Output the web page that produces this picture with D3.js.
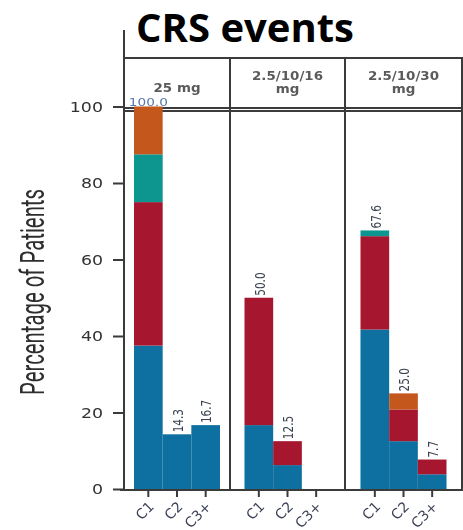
<!DOCTYPE html>
<html>
<head>
<meta charset="utf-8">
<script src="https://cdn.jsdelivr.net/npm/d3@7"></script>
<style>
  body { margin: 0; background: #fff; }
  svg { display: block; }
</style>
</head>
<body>
<svg id="chart" width="463" height="530"></svg>
<script>
// ---- data ---------------------------------------------------------------
// Dose cohorts (one facet each) and the cycles shown inside every facet
const cohorts = ["25 mg", "2.5/10/16 mg", "2.5/10/30 mg"];
const cohortLines = [["25 mg"], ["2.5/10/16", "mg"], ["2.5/10/30", "mg"]];
const cycles = ["C1", "C2", "C3+"];

// Percentage of patients with CRS per grade; rows = cohorts, columns = C1, C2, C3+
const grade1 = [[37.5, 14.3, 16.7], [16.7, 6.25, 0], [41.7, 12.5, 3.85]];
const grade2 = [[37.5, 0, 0], [33.3, 6.25, 0], [24.4, 8.3, 3.85]];
const grade3 = [[12.5, 0, 0], [0, 0, 0], [1.5, 0, 0]];
const grade4 = [[12.5, 0, 0], [0, 0, 0], [0, 4.2, 0]];

const yTicks = [0, 20, 40, 60, 80, 100];
const gradeKeys = ["g1", "g2", "g3", "g4"];
const gradeColors = ["#0b6fa0", "#a6142f", "#0f958f", "#c4581c"];

// ---- layout -------------------------------------------------------------
const svg = d3.select("#chart");
const axisX = 124;
const panelEdges = [124, 230, 345, 462];
const stripTop = 58, stripBottom = 108, plotTop = 111, plotBottom = 489;
const groupWidth = 86;
const frameColor = "#3b3b3b";

const y = d3.scaleLinear().domain([0, 100]).range([489, 106.5]);
const color = d3.scaleOrdinal().domain(gradeKeys).range(gradeColors);

// one band scale per cohort facet
const xScales = cohorts.map((c, i) => {
  const mid = (panelEdges[i] + panelEdges[i + 1]) / 2;
  return d3.scaleBand().domain(cycles)
    .range([mid - groupWidth / 2, mid + groupWidth / 2]).padding(0);
});

// table rows for the stack layout
const rows = [];
cohorts.forEach((c, i) => cycles.forEach((cy, j) => {
  rows.push({ cohort: i, cycle: cy,
    g1: grade1[i][j], g2: grade2[i][j], g3: grade3[i][j], g4: grade4[i][j] });
}));
const stacked = d3.stack().keys(gradeKeys)(rows);

// soft rendering of the figure body
const defs = svg.append("defs");
defs.append("filter").attr("id", "soft")
  .attr("x", "-5%").attr("y", "-5%").attr("width", "110%").attr("height", "110%")
  .append("feGaussianBlur").attr("stdDeviation", 0.45);

// ---- title --------------------------------------------------------------
svg.append("text")
  .attr("x", 245).attr("y", 42)
  .attr("text-anchor", "middle")
  .attr("font-family", "'Open Sans', sans-serif")
  .attr("font-weight", 700)
  .attr("font-size", 40)
  .attr("fill", "#000")
  .text("CRS events");

const chart = svg.append("g").attr("filter", "url(#soft)");

// ---- frame: facet strip and panel borders ------------------------------
const frame = chart.append("g")
  .attr("stroke", frameColor).attr("stroke-width", 2).attr("fill", "none");
frame.append("line").attr("x1", axisX).attr("x2", axisX).attr("y1", 30).attr("y2", plotBottom + 1);
[stripTop, stripBottom, plotTop].forEach(yy =>
  frame.append("line").attr("x1", axisX).attr("x2", 463).attr("y1", yy).attr("y2", yy));
panelEdges.slice(1).forEach(xx =>
  frame.append("line").attr("x1", xx).attr("x2", xx).attr("y1", stripTop).attr("y2", plotBottom + 1));

// facet strip labels
cohortLines.forEach((lines, i) => {
  const mid = (panelEdges[i] + panelEdges[i + 1]) / 2;
  const t = chart.append("text")
    .attr("transform", `translate(${mid},0) scale(1.12,1)`)
    .attr("text-anchor", "middle")
    .attr("font-family", "'DejaVu Sans', sans-serif")
    .attr("font-weight", 700)
    .attr("font-size", 12)
    .attr("fill", "#5a5a5a");
  const starts = lines.length === 1 ? [92] : [80, 93];
  lines.forEach((l, k) => t.append("tspan").attr("x", 0).attr("y", starts[k]).text(l));
});

// ---- y axis -------------------------------------------------------------
const yAxis = chart.append("g")
  .attr("transform", `translate(${axisX},0)`)
  .call(d3.axisLeft(y).tickValues(yTicks).tickSize(11).tickPadding(9));
yAxis.select(".domain").remove();
yAxis.selectAll(".tick line").attr("stroke", frameColor).attr("stroke-width", 2);
yAxis.selectAll(".tick text")
  .attr("font-family", "'DejaVu Sans', sans-serif")
  .attr("font-size", 14.5)
  .attr("fill", "#333")
  .attr("x", -21 / 1.2)
  .attr("transform", "scale(1.2,1)");

// y axis title
chart.append("text")
  .attr("transform", "translate(44,292) scale(1.25,1) rotate(-90)")
  .attr("text-anchor", "middle")
  .attr("font-family", "Roboto, sans-serif")
  .attr("font-size", 26)
  .attr("fill", "#2e2e2e")
  .attr("textLength", 206)
  .attr("lengthAdjust", "spacingAndGlyphs")
  .text("Percentage of Patients");

// ---- bars ---------------------------------------------------------------
const bars = chart.append("g");
stacked.forEach(layer => {
  bars.append("g").attr("fill", color(layer.key))
    .selectAll("rect")
    .data(layer.filter(d => d[1] - d[0] > 0))
    .join("rect")
    .attr("x", d => xScales[d.data.cohort](d.data.cycle))
    .attr("width", d => xScales[d.data.cohort].bandwidth())
    .attr("y", d => y(d[1]))
    .attr("height", d => y(d[0]) - y(d[1]));
});

// ---- x axes (one per facet) --------------------------------------------
chart.append("line")
  .attr("x1", axisX - 4).attr("x2", 463)
  .attr("y1", plotBottom + 1).attr("y2", plotBottom + 1)
  .attr("stroke", frameColor).attr("stroke-width", 2);
xScales.forEach(xs => {
  const g = chart.append("g")
    .attr("transform", `translate(0,${plotBottom + 1})`)
    .call(d3.axisBottom(xs).tickSize(7));
  g.select(".domain").remove();
  g.selectAll(".tick line").attr("stroke", frameColor).attr("stroke-width", 2);
  g.selectAll(".tick text")
    .attr("x", 0).attr("y", 0).attr("dy", "0.35em")
    .attr("text-anchor", "end")
    .attr("transform", "translate(3,14) rotate(-45)")
    .attr("font-family", "'DejaVu Sans', sans-serif")
    .attr("font-size", 14)
    .attr("fill", "#3a3f55");
});

// ---- totals above each bar ---------------------------------------------
const fmt = d3.format(".1f");
const totals = rows.map(r => ({ ...r, total: r.g1 + r.g2 + r.g3 + r.g4 }))
  .filter(r => r.total > 0);
// no room for an upright label above the tallest bar: keep that one horizontal
const flat = d => y(d.total) - 30 < plotTop;
chart.append("g").selectAll("text")
  .data(totals)
  .join("text")
  .attr("font-family", "'DejaVu Sans', sans-serif")
  .attr("font-size", 10.5)
  .attr("fill", d => flat(d) ? "#5a78a8" : "#3a4250")
  .attr("transform", d => {
    const cx = xScales[d.cohort](d.cycle) + xScales[d.cohort].bandwidth() / 2;
    const top = y(d.total) - 2;
    return flat(d)
      ? `translate(${cx},${top + 1}) scale(1.3,1)`
      : `translate(${cx + 1},${top}) scale(1.3,1) rotate(-90)`;
  })
  .attr("text-anchor", d => flat(d) ? "middle" : "start")
  .attr("dy", d => flat(d) ? 0 : "0.35em")
  .text(d => fmt(d.total));
</script>
</body>
</html>
